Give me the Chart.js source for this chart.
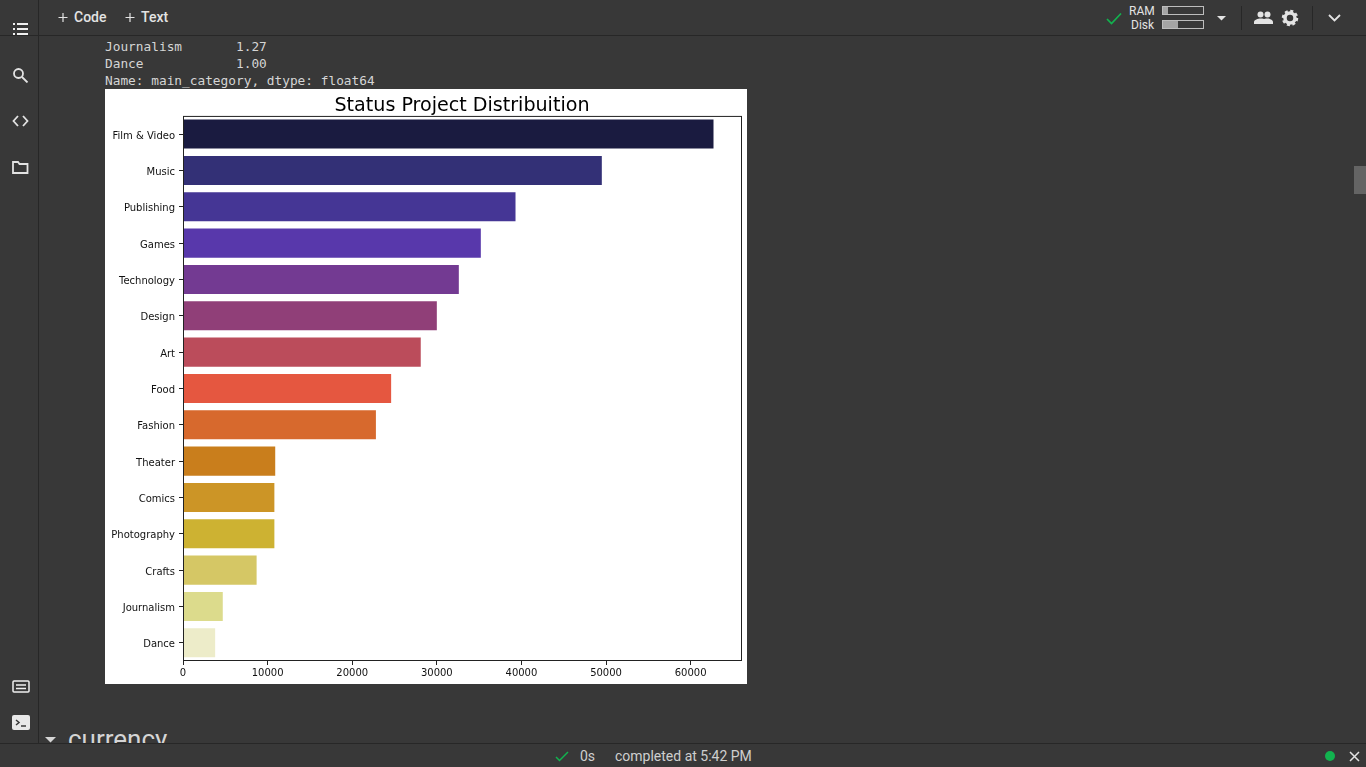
<!DOCTYPE html>
<html>
<head>
<meta charset="utf-8">
<title>Status Project Distribuition</title>
<script src="https://cdn.jsdelivr.net/npm/chart.js@4"></script>
<style>
html, body { margin: 0; padding: 0; width: 1366px; height: 767px; overflow: hidden; background: #383838; font-family: Roboto, sans-serif; color: #e3e3e3; }
.abs { position: absolute; white-space: pre; }
#topbar { position: absolute; left: 0; top: 0; width: 1366px; height: 35px; border-bottom: 1px solid #272727; }
#sidebar { position: absolute; left: 38px; top: 0; width: 1px; height: 743px; background: #272727; }
#statusbar { position: absolute; left: 0; top: 743px; width: 1366px; height: 24px; background: #383838; border-top: 1px solid #272727; }
.out { font-family: "DejaVu Sans Mono", monospace; font-size: 12.8px; color: #d5d5d5; left: 105px; line-height: 17px; }
#plot { position: absolute; left: 105px; top: 89px; width: 642px; height: 595px; background: #fff; }
svg { position: absolute; }
.bar { position: absolute; width: 40px; height: 7px; border: 1px solid #bdbdbd; left: 1162px; }
.bar i { display: block; height: 7px; background: #a5a5a5; }
</style>
</head>
<body>
<div class="abs out" style="top:38px">Journalism       1.27</div>
<div class="abs out" style="top:55px">Dance            1.00</div>
<div class="abs out" style="top:72px">Name: main_category, dtype: float64</div>
<div id="plot"><canvas id="chart" width="642" height="595"></canvas></div>

<div class="abs" style="left:68px;top:722px;font-size:26px;color:#d5d5d5;line-height:34px">currency</div>
<svg style="left:45px;top:737px" width="12" height="6"><path d="M0 0H11L5.5 5.5Z" fill="#d5d5d5"/></svg>

<div id="topbar"></div>
<div id="sidebar"></div>
<svg style="left:58px;top:13px" width="10" height="10" stroke="#e3e3e3" stroke-width="1.200"><path d="M5 0v9M0.500 4.500h9"/></svg>
<div class="abs" style="left:74px;top:9px;font-size:14px;font-weight:500;line-height:17px">Code</div>
<svg style="left:125px;top:13px" width="10" height="10" stroke="#e3e3e3" stroke-width="1.200"><path d="M5 0v9M0.500 4.500h9"/></svg>
<div class="abs" style="left:141px;top:9px;font-size:14px;font-weight:500;line-height:17px">Text</div>

<svg style="left:12px;top:22px" width="18" height="14" fill="none" stroke="#f0f0f0" stroke-width="2"><path d="M1 2h2M5 2h11M1 7h2M5 7h11M1 12h2M5 12h11"/></svg>
<svg style="left:12px;top:67px" width="18" height="16" fill="none" stroke="#e3e3e3" stroke-width="1.800"><circle cx="6.500" cy="6.500" r="4.500"/><path d="M10 10l5.500 5.500"/></svg>
<svg style="left:12px;top:114px" width="18" height="14" fill="none" stroke="#e3e3e3" stroke-width="1.800"><path d="M6 2L1.500 7L6 12M11 2L15.500 7L11 12"/></svg>
<svg style="left:12px;top:160px" width="18" height="14" fill="none" stroke="#e3e3e3" stroke-width="1.800"><path d="M1 2h5l1.500 2H15.500V13H1Z"/></svg>
<svg style="left:12px;top:680px" width="18" height="14" fill="none" stroke="#f0f0f0" stroke-width="1.500"><rect x="1" y="1" width="16" height="11" rx="1"/><path d="M4 5h10M4 8.500h10"/></svg>
<svg style="left:12px;top:715px" width="18" height="16"><rect x="0" y="0" width="18" height="15" rx="2" fill="#e8e8e8"/><path d="M4 5l3 2.500l-3 2.500" fill="none" stroke="#383838" stroke-width="1.500"/><path d="M9 11h5" stroke="#383838" stroke-width="1.500"/></svg>

<svg style="left:1106px;top:12px" width="16" height="13" fill="none" stroke="#12b34f" stroke-width="1.700"><path d="M1 7l4.500 4.500L15 1.500"/></svg>
<div class="abs" style="left:1129px;top:4px;font-size:12px;line-height:14px">RAM</div>
<div class="abs" style="left:1131px;top:18px;font-size:12px;line-height:14px">Disk</div>
<div class="bar" style="top:6px"><i style="width:5px"></i></div>
<div class="bar" style="top:20px"><i style="width:15px"></i></div>
<svg style="left:1217px;top:16px" width="10" height="5"><path d="M0 0H9L4.500 4.500Z" fill="#e3e3e3"/></svg>
<svg style="left:1241px;top:6px" width="1" height="24"><rect width="1" height="24" fill="#272727"/></svg>
<svg style="left:1254px;top:10px" width="20" height="15" fill="#e3e3e3"><circle cx="6.500" cy="4.500" r="3"/><circle cx="13.500" cy="4.500" r="3"/><path d="M0 14v-2c0-2 4-3.500 6.500-3.500S10 9 10 9s1.500-.5 3.500-.5 5.500 1.500 5.500 3.500v2Z"/></svg>
<svg style="left:1281px;top:9px" width="18" height="18"><circle cx="9" cy="9" r="5" fill="none" stroke="#e3e3e3" stroke-width="3.500"/><circle cx="9" cy="9" r="7" fill="none" stroke="#e3e3e3" stroke-width="2.500" stroke-dasharray="3 2.500"/></svg>
<svg style="left:1312px;top:6px" width="1" height="24"><rect width="1" height="24" fill="#272727"/></svg>
<svg style="left:1328px;top:14px" width="13" height="9" fill="none" stroke="#e3e3e3" stroke-width="1.800"><path d="M1 1l5.500 5.500L12 1"/></svg>
<svg style="left:1354px;top:166px" width="12" height="28"><rect width="12" height="28" fill="#646464"/></svg>

<div id="statusbar"></div>
<svg style="left:555px;top:751px" width="14" height="11" fill="none" stroke="#12b34f" stroke-width="1.500"><path d="M1 6l3.500 3.500L13 1"/></svg>
<div class="abs" style="left:580px;top:748px;font-size:14px;line-height:17px;color:#cfcfcf">0s</div>
<div class="abs" style="left:615px;top:748px;font-size:14px;line-height:17px;color:#cfcfcf">completed at 5:42 PM</div>
<svg style="left:1325px;top:751px" width="10" height="10"><circle cx="5" cy="5" r="5" fill="#12b34f"/></svg>
<svg style="left:1349px;top:751px" width="11" height="11" stroke="#e3e3e3" stroke-width="1.500"><path d="M1 1l9 9M10 1l-9 9"/></svg>

<script>
const categories = ['Film & Video', 'Music', 'Publishing', 'Games', 'Technology', 'Design', 'Art', 'Food', 'Fashion', 'Theater', 'Comics', 'Photography', 'Crafts', 'Journalism', 'Dance'];
const projectCounts = [62700, 49500, 39300, 35200, 32600, 30000, 28100, 24600, 22800, 10900, 10800, 10800, 8700, 4700, 3800];
const barColors = ['#1a1b40', '#333076', '#453695', '#5838ab', '#733a92', '#903f78', '#bb4c5b', '#e55740', '#d7692d', '#c97e1c', '#cc9526', '#cdb232', '#d5c765', '#dcdb8c', '#edecc9'];
const xTicks = [0, 10000, 20000, 30000, 40000, 50000, 60000];

// box round the plot, matplotlib style
const frame = {
    id: 'frame',
    afterDatasetsDraw(chart) {
        const { ctx, chartArea: a } = chart;
        ctx.save();
        ctx.strokeStyle = '#222';
        ctx.lineWidth = 1;
        ctx.strokeRect(a.left + 0.5, a.top + 0.5, a.right - a.left, a.bottom - a.top - 1);
        ctx.restore();
    }
};

new Chart(document.getElementById('chart'), {
    type: 'bar',
    data: {
        labels: categories,
        datasets: [{ data: projectCounts, backgroundColor: barColors, categoryPercentage: 1, barPercentage: 0.8 }]
    },
    plugins: [frame],
    options: {
        indexAxis: 'y',
        responsive: false,
        animation: false,
        layout: { padding: { left: 0, right: 6, top: 0, bottom: 0 } },
        plugins: {
            legend: { display: false },
            tooltip: { enabled: false },
            title: {
                display: true,
                fullSize: false,
                text: 'Status Project Distribuition',
                color: '#000',
                font: { family: 'DejaVu Sans', size: 19.100, weight: 'normal' },
                padding: { top: 6, bottom: -2 }
            }
        },
        scales: {
            x: {
                min: 0,
                max: 65950,
                afterBuildTicks(axis) { axis.ticks = xTicks.map(value => ({ value })); },
                afterFit(axis) { axis.height = 23; },
                grid: { drawOnChartArea: false, tickLength: 4, tickColor: '#222' },
                border: { display: false },
                ticks: { color: '#111', font: { family: 'DejaVu Sans', size: 10 }, padding: 2, maxRotation: 0, autoSkip: false, callback: v => String(v) }
            },
            y: {
                afterFit(axis) { axis.width = 78; },
                grid: { offset: false, drawOnChartArea: false, tickLength: 4, tickColor: '#222' },
                border: { display: false },
                ticks: { color: '#111', font: { family: 'DejaVu Sans', size: 10 }, padding: 4, labelOffset: 2, autoSkip: false }
            }
        }
    }
});
</script>
</body>
</html>
